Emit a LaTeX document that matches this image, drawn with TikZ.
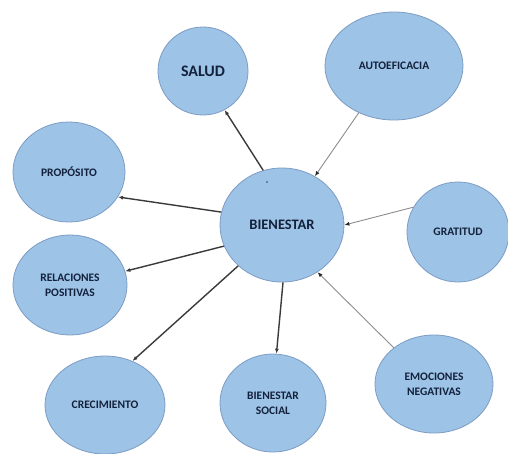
\documentclass[tikz,border=0pt]{standalone}
\usepackage{fontspec}
\setmainfont{Carlito}
\usetikzlibrary{shapes.geometric,arrows.meta}
\definecolor{bub}{HTML}{9DC3E6}
\definecolor{bubline}{HTML}{7D9CC4}
\definecolor{txt}{HTML}{14213D}
\definecolor{darkln}{HTML}{3A3A3A}
\definecolor{grayln}{HTML}{8C8C8C}
\tikzset{
  bubble/.style={ellipse, fill=bub, draw=bubline, line width=0.8pt, inner sep=0pt,
    text=txt, font=\bfseries\fontsize{11.5}{15}\selectfont, align=center},
  outarrow/.style={draw=darkln, line width=1.4pt, -{Latex[length=5pt,width=4pt]}},
  inarrow/.style={draw=grayln, line width=0.9pt, -{Latex[length=5pt,width=4pt,color=black!85]}}
}
\begin{document}
\begin{tikzpicture}[x=1pt,y=-1pt]
\useasboundingbox (0,0) rectangle (508,453);
\node[bubble, minimum width=90pt, minimum height=88pt, font=\bfseries\fontsize{16}{18}\selectfont] (salud) at (203,71) {SALUD};
\node[bubble, minimum width=138pt, minimum height=108pt] (auto) at (394,66) {AUTOEFICACIA};
\node[bubble, minimum width=112pt, minimum height=100pt] (prop) at (69,172) {PROPÓSITO};
\node[bubble, minimum width=124pt, minimum height=114pt, font=\bfseries\fontsize{14.5}{16}\selectfont] (bien) at (282,225) {BIENESTAR};
\node[bubble, minimum width=102pt, minimum height=100pt] (grat) at (458,232) {GRATITUD};
\node[bubble, minimum width=114pt, minimum height=100pt] (rel) at (70,285) {RELACIONES\\POSITIVAS};
\node[bubble, minimum width=120pt, minimum height=98pt] (crec) at (105,405) {CRECIMIENTO};
\node[bubble, minimum width=106pt, minimum height=98pt] (bsoc) at (273,403) {BIENESTAR\\SOCIAL};
\node[bubble, minimum width=118pt, minimum height=98pt] (emo) at (434,384) {EMOCIONES\\NEGATIVAS};
\fill[bubline!70!black] (267,182) circle (1.2pt);
\draw[outarrow] (bien.109.1) -- (salud.-61.3);
\draw[inarrow] (auto.-127.6) -- (bien.56.3);
\draw[outarrow] (bien.168.3) -- (prop.-27);
\draw[inarrow] (grat.151.9) -- (bien.-0.9);
\draw[outarrow] (bien.-160.5) -- (rel.14);
\draw[outarrow] (bien.-137.7) -- (crec.58.7);
\draw[outarrow] (bien.-89) -- (bsoc.86.3);
\draw[inarrow] (emo.138.9) -- (bien.-53.9);
\end{tikzpicture}
\end{document}
